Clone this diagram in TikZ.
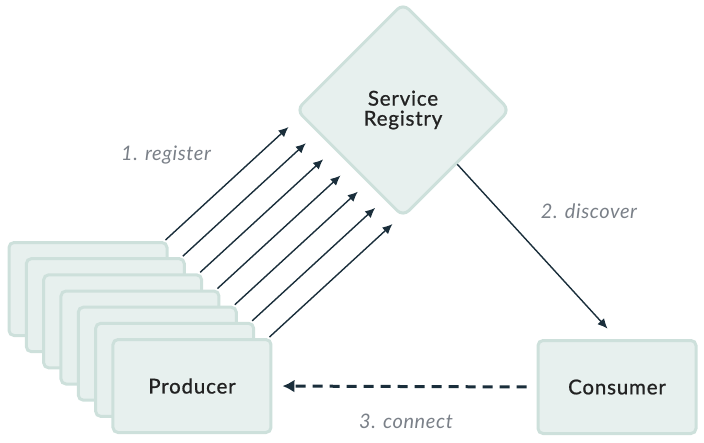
\documentclass[tikz,border=0pt]{standalone}
\usepackage{fontspec}
\setmainfont{Lato}
\newfontfamily\boxfont[FakeBold=0.9,LetterSpace=4]{Lato}
\newfontfamily\labelfont[LetterSpace=3]{Lato}
\usetikzlibrary{shapes.geometric,arrows.meta}

\definecolor{boxfill}{HTML}{E7F0EE}
\definecolor{boxline}{HTML}{CDE0DB}
\definecolor{arrowcol}{HTML}{1A2E3B}
\definecolor{labelcol}{HTML}{7A8088}
\definecolor{textcol}{HTML}{222222}

\begin{document}
\begin{tikzpicture}[
	x=1pt, y=-1pt,
	box/.style={rectangle, rounded corners=5pt, draw=boxline, fill=boxfill, line width=3pt,
		minimum width=158pt, minimum height=93pt, text=textcol, font=\boxfont\fontsize{20.5}{23}\selectfont},
	regnode/.style={diamond, aspect=1, rounded corners=8pt, draw=boxline, fill=boxfill, line width=3pt,
		minimum size=214pt, inner sep=0pt, align=center, text=textcol, font=\boxfont\fontsize{20.5}{23}\selectfont},
	arr/.style={-{Latex[length=10pt,width=9pt]}, draw=arrowcol, line width=1.4pt},
	steplabel/.style={text=labelcol, font=\labelfont\fontsize{20}{22}\selectfont\itshape},
	]
	\useasboundingbox (0,0) rectangle (704,442);
	%Nodes
	\node[regnode] (reg) at (403,110) {Service\\[-3pt]Registry};
	\foreach \k in {0,...,6}{
		\node[box] (p\k) at ({88+17.33*\k},{289+16.17*\k}) {};
		\path ([xshift=-3pt,yshift=1pt]p\k.north east) coordinate (s\k) ++(123,-113) coordinate (r\k);
	}
	\node at (p6) [text=textcol, font=\boxfont\fontsize{20.5}{23}\selectfont] (prodtext) {Producer};
	\node[box] (cons) at (617,387) {Consumer};

	%Labels
	\node[steplabel] (l1) at (166,155) {1. register};
	\node[steplabel] (l2) at (589,211) {2. discover};
	\node[steplabel] (l3) at (406,421) {3. connect};

	%Lines
	\foreach \k in {0,...,6}
		\draw[arr] (s\k) -- (r\k);
	\draw[arr] (reg.south east) -- (cons.north) [shorten >=14pt];
	\draw[arr, line width=3pt, dash pattern=on 10pt off 7pt, -{Latex[length=12pt,width=13pt]}, shorten <=10pt, shorten >=10pt] (cons.west) -- (p6.east);
\end{tikzpicture}
\end{document}
